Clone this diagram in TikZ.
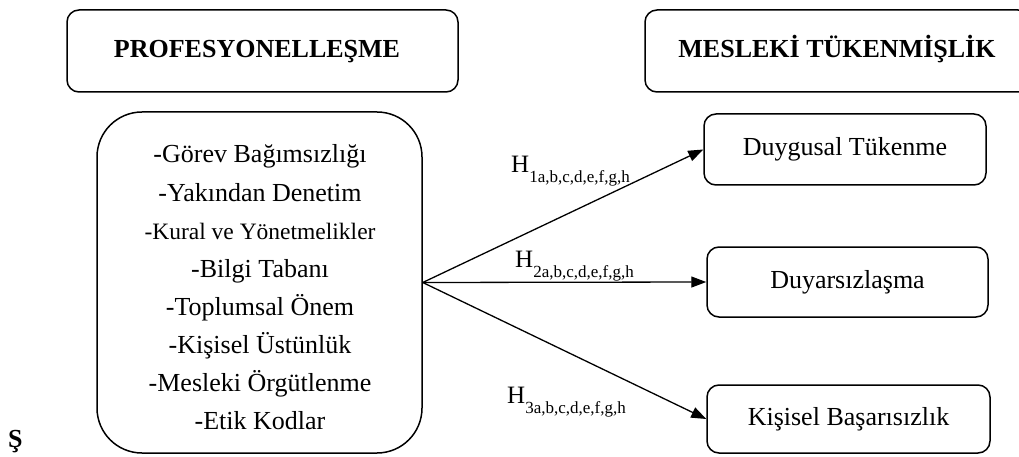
\documentclass[tikz,border=0pt]{standalone}
\usepackage{fontspec}
\setmainfont{Liberation Serif}
\usetikzlibrary{arrows.meta}
\newcommand\hyplabel[1]{{\fontsize{25}{25}\selectfont H}\raisebox{-10pt}{\fontsize{17}{17}\selectfont #1a,b,c,d,e,f,g,h}}
\begin{document}
\begin{tikzpicture}[x=1pt,y=-1pt,
  box/.style={draw, line width=1.5pt, rounded corners=12pt, inner sep=0pt},
  txt/.style={inner sep=0pt, anchor=base, font=\fontsize{26}{26}\selectfont},
  title/.style={inner sep=0pt, anchor=base, font=\bfseries\fontsize{26}{26}\selectfont},
  rtxt/.style={font=\fontsize{26}{26}\selectfont},
  arr/.style={line width=1.3pt, -{Triangle[length=15pt,width=11pt]}},
  hyp/.style={inner sep=0pt, anchor=base west}]
\useasboundingbox (0,0) rectangle (1019,457);
% top boxes
\node[box, minimum width=391pt, minimum height=82pt] (pbox) at (262.5,51) {};
\node[title] (ptitle) at (257,58) {PROFESYONELLEŞME};
\node[box, minimum width=385pt, minimum height=82pt] (mbox) at (837.5,51) {};
\node[title] (mtitle) at (837,58) {MESLEKİ TÜKENMİŞLİK};
% factors box
\node[box, rounded corners=45pt, minimum width=325pt, minimum height=341pt] (factors) at (259.5,282.5) {};
\node[txt] (l1) at (260,163) {-Görev Bağımsızlığı};
\node[txt] (l2) at (260,201) {-Yakından Denetim};
\node[txt, font=\fontsize{23.5}{23.5}\selectfont] (l3) at (260,239) {-Kural ve Yönetmelikler};
\node[txt] (l4) at (260,277) {-Bilgi Tabanı};
\node[txt] (l5) at (260,315) {-Toplumsal Önem};
\node[txt] (l6) at (260,353) {-Kişisel Üstünlük};
\node[txt] (l7) at (260,391) {-Mesleki Örgütlenme};
\node[txt] (l8) at (260,429) {-Etik Kodlar};
% outcome boxes
\node[box, rtxt, minimum width=282pt, minimum height=71pt] (r1) at (845,149.5) {Duygusal Tükenme};
\node[box, rtxt, minimum width=281pt, minimum height=70pt] (r2) at (847.5,282) {Duyarsızlaşma};
\node[box, rtxt, minimum width=283pt, minimum height=68pt] (r3) at (848.5,419) {Kişisel Başarısızlık};
% arrows
\draw[arr] (factors.east) -- (r1.west);
\draw[arr] (factors.east) -- (r2.west);
\draw[arr] (factors.east) -- (r3.west);
% hypothesis labels
\node[hyp] (h1) at (511,172) {\hyplabel{1}};
\node[hyp] (h2) at (515,267) {\hyplabel{2}};
\node[hyp] (h3) at (507,403) {\hyplabel{3}};
% stray letter
\node[inner sep=0pt, anchor=base west, font=\bfseries\fontsize{26}{26}\selectfont] (s) at (8,447) {Ş};
\end{tikzpicture}
\end{document}
